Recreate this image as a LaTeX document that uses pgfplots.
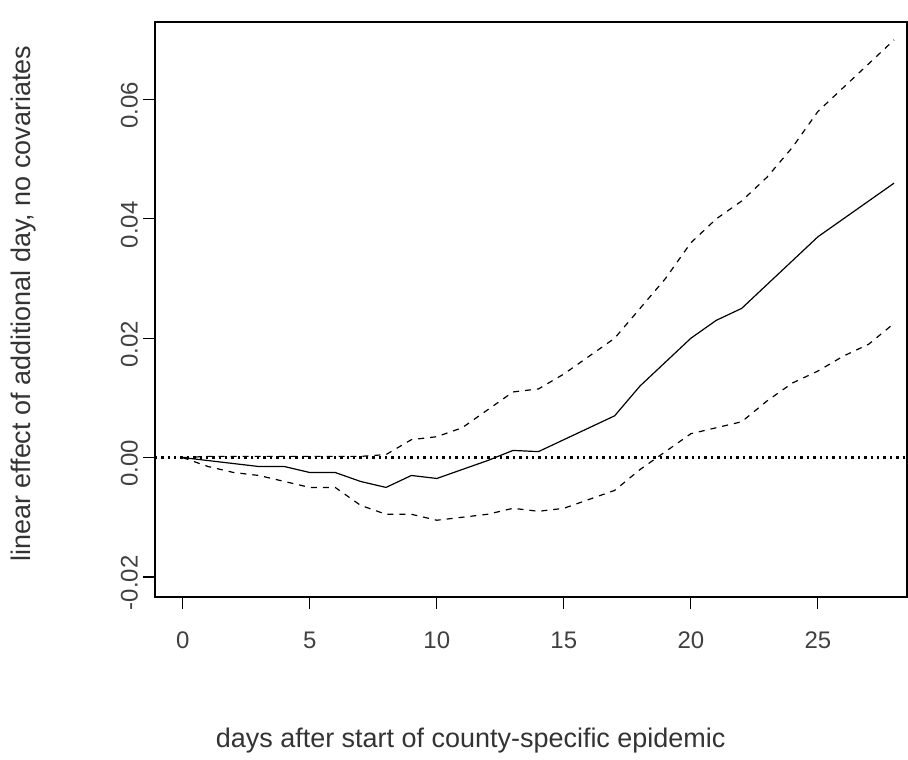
\documentclass[border=0pt]{standalone}
\usepackage{pgfplots}
\pgfplotsset{compat=1.18}
\usepackage{fontspec}
\setmainfont{Liberation Sans}
\begin{document}
\begin{tikzpicture}
\begin{axis}[at={(0,0)},anchor=south west,scale only axis,width=376.5pt,height=288pt,
xmin=-1.1,xmax=28.5,ymin=-0.0234,ymax=0.073,
axis line style={black,line width=0.8pt},
xtick={0,5,...,25},ytick={-0.02,0,0.02,0.04,0.06},
yticklabel style={/pgf/number format/fixed,/pgf/number format/fixed zerofill,/pgf/number format/precision=2,rotate=90,anchor=south,yshift=-1pt},
/pgf/number format/assume math mode=true,
tick align=outside,major tick length=6pt,tick style={black,line width=0.6pt},
xtick pos=bottom,ytick pos=left,
ticklabel style={font=\fontsize{12}{14}\selectfont,text=black!75},
xticklabel style={yshift=-8pt},
yticklabel style={xshift=-3pt},
scaled y ticks=false,
xlabel={days after start of county-specific epidemic},
ylabel={linear effect of additional day, no covariates},
label style={font=\fontsize{13.5}{15}\selectfont,text=black!80},
xlabel style={at={(axis description cs:0.42,0)},yshift=-62pt},
ylabel style={at={(axis description cs:0,0.51)},yshift=56pt},
clip=false]
\addplot[black,line width=0.6pt] coordinates {(0,0)(1,-0.0005)(2,-0.001)(3,-0.0015)(4,-0.0015)(5,-0.0025)(6,-0.0025)(7,-0.004)(8,-0.005)(9,-0.003)(10,-0.0035)(11,-0.002)(12,-0.0005)(13,0.0012)(14,0.001)(15,0.003)(16,0.005)(17,0.007)(18,0.012)(19,0.016)(20,0.02)(21,0.023)(22,0.025)(23,0.029)(24,0.033)(25,0.037)(26,0.040)(27,0.043)(28,0.046)};
\addplot[black,line width=0.6pt,dashed] coordinates {(0,0)(1,0.0002)(2,0.0002)(3,0.0002)(4,0.0002)(5,0.0002)(6,0.0002)(7,0.0002)(8,0.0005)(9,0.003)(10,0.0035)(11,0.005)(12,0.008)(13,0.011)(14,0.0115)(15,0.014)(16,0.017)(17,0.020)(18,0.025)(19,0.030)(20,0.036)(21,0.040)(22,0.043)(23,0.047)(24,0.052)(25,0.058)(26,0.062)(27,0.066)(28,0.070)};
\addplot[black,line width=0.6pt,dashed] coordinates {(0,0)(1,-0.0015)(2,-0.0025)(3,-0.003)(4,-0.004)(5,-0.005)(6,-0.005)(7,-0.008)(8,-0.0095)(9,-0.0095)(10,-0.0105)(11,-0.010)(12,-0.0095)(13,-0.0085)(14,-0.009)(15,-0.0085)(16,-0.007)(17,-0.0055)(18,-0.002)(19,0.001)(20,0.004)(21,0.005)(22,0.006)(23,0.0095)(24,0.0125)(25,0.0145)(26,0.017)(27,0.019)(28,0.0225)};
\addplot[black,line width=1.2pt,dotted] coordinates {(-1.1,0)(28.5,0)};
\end{axis}
\useasboundingbox (-77.5pt,-77pt) rectangle (376.5pt,299pt);
\end{tikzpicture}
\end{document}
